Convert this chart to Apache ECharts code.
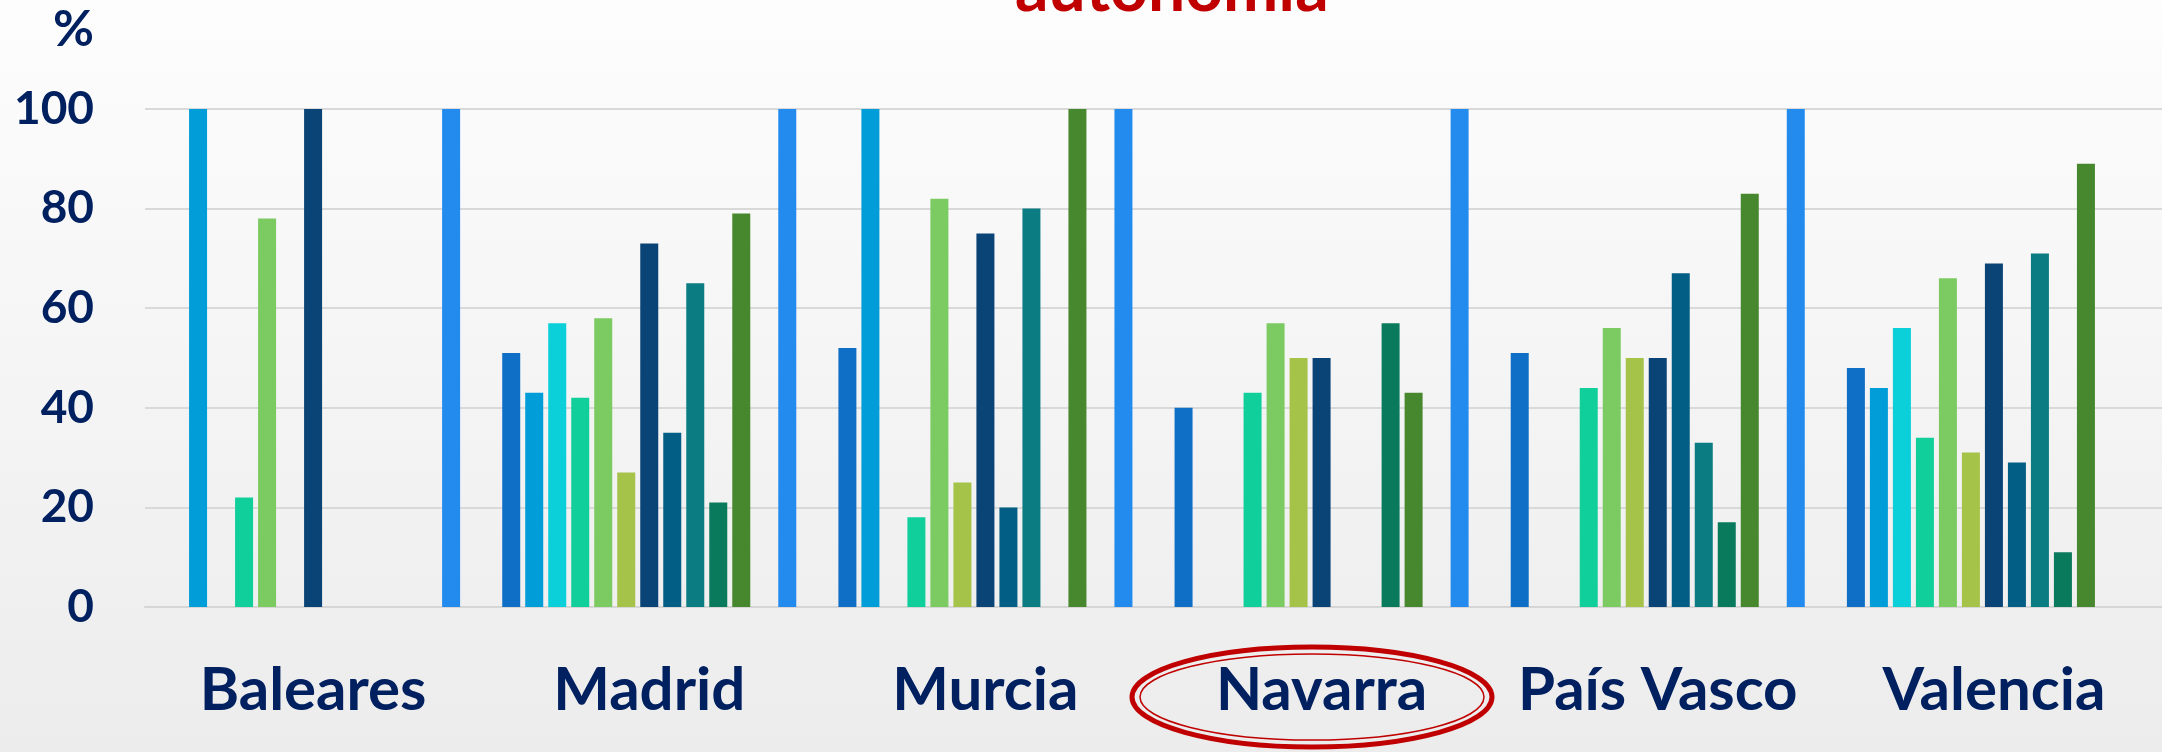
<!DOCTYPE html>
<html>
<head>
<meta charset="utf-8">
<script src="https://cdn.jsdelivr.net/npm/echarts@6/dist/echarts.min.js"></script>
<style>
  html, body { margin: 0; padding: 0; }
  #chart { width: 2162px; height: 752px; }
</style>
</head>
<body>
<div id="chart"></div>
<script>
// comunidades
const categories = ["Baleares", "Madrid", "Murcia", "Navarra", "País Vasco", "Valencia"];

// valores en %, una lista por serie (null = sin barra)
const serie1 = [null, 51, 52, 40, 51, 48];
const serie2 = [100, 43, 100, null, null, 44];
const serie3 = [null, 57, null, null, null, 56];
const serie4 = [22, 42, 18, 43, 44, 34];
const serie5 = [78, 58, 82, 57, 56, 66];
const serie6 = [null, 27, 25, 50, 50, 31];
const serie7 = [100, 73, 75, 50, 50, 69];
const serie8 = [null, 35, 20, null, 67, 29];
const serie9 = [null, 65, 80, null, 33, 71];
const serie10 = [null, 21, null, 57, 17, 11];
const serie11 = [null, 79, 100, 43, 83, 89];
const serie12 = [100, 100, 100, 100, 100, null];

const yTicks = [0, 20, 40, 60, 80, 100];

const colors = [
  "#0F6FC6", "#009DD9", "#0BD0D9", "#10CF9B", "#7CCA62", "#A5C249",
  "#0A4477", "#025E84", "#0A7C82", "#0A7A5C", "#47882E", "#238BEE",
];
const allSeries = [serie1, serie2, serie3, serie4, serie5, serie6,
  serie7, serie8, serie9, serie10, serie11, serie12];

const labelColor = "#002060";
const font = "Lato, 'Open Sans', sans-serif";

const series = [];
allSeries.forEach((data, i) => {
  if (i === allSeries.length - 1) {
    // hueco vacío antes de la última barra
    series.push({
      type: "bar",
      name: "hueco",
      barWidth: 18,
      barGap: "27.8%",
      silent: true,
      data: categories.map(() => null),
    });
  }
  series.push({
    type: "bar",
    name: "Serie " + (i + 1),
    barWidth: 18,
    barGap: "27.8%",
    itemStyle: { color: colors[i] },
    data: data,
  });
});

const chart = echarts.init(document.getElementById("chart"));
chart.setOption({
  animation: false,
  backgroundColor: new echarts.graphic.LinearGradient(0, 0, 0, 1, [
    { offset: 0, color: "#FDFDFD" },
    { offset: 1, color: "#ECECEC" },
  ]),
  grid: { left: 145, right: 0, top: 109, bottom: 145 },
  xAxis: {
    type: "category",
    data: categories,
    axisTick: { show: false },
    axisLine: { show: true, lineStyle: { color: "#D6D6D6", width: 2 } },
    axisLabel: {
      interval: 0,
      margin: 54,
      color: labelColor,
      fontFamily: font,
      fontWeight: "bold",
      fontSize: 60,
    },
  },
  yAxis: {
    type: "value",
    min: yTicks[0],
    max: yTicks[yTicks.length - 1],
    interval: yTicks[1] - yTicks[0],
    axisLine: { show: false },
    axisTick: { show: false },
    splitLine: { lineStyle: { color: "#D9D9D9", width: 2 } },
    axisLabel: {
      margin: 51,
      color: labelColor,
      fontFamily: font,
      fontWeight: "bold",
      fontSize: 46,
    },
  },
  graphic: [
    {
      type: "text",
      x: 1015,
      y: -10,
      style: {
        text: "autonomía",
        font: "bold 66px " + font,
        fill: "#C00000",
        align: "left",
        verticalAlign: "middle",
      },
    },
    {
      type: "text",
      x: 94,
      y: 30,
      style: {
        text: "%",
        font: "bold 50px " + font,
        fill: labelColor,
        align: "right",
        verticalAlign: "middle",
      },
    },
    {
      // doble elipse roja sobre Navarra
      type: "ellipse",
      shape: { cx: 1312, cy: 697, rx: 180, ry: 50 },
      style: { fill: "transparent", stroke: "#C00000", lineWidth: 5 },
    },
    {
      type: "ellipse",
      shape: { cx: 1312, cy: 697, rx: 172, ry: 43 },
      style: { fill: "transparent", stroke: "#C00000", lineWidth: 1.5 },
    },
  ],
  series: series,
});
</script>
</body>
</html>
